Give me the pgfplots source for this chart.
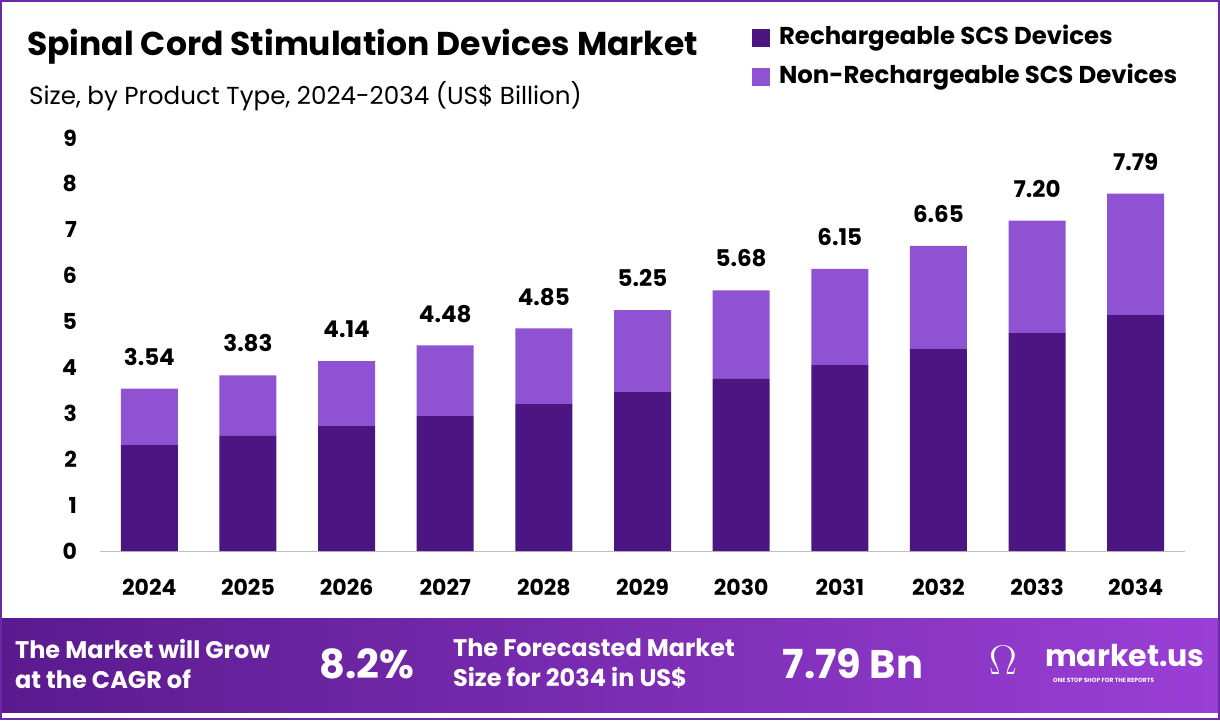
\documentclass[border=0pt]{standalone}
\usepackage{pgfplots}
\pgfplotsset{compat=1.18}
\usepackage{fontspec}
\setmainfont{Poppins}
\definecolor{darkp}{HTML}{4C1682}
\definecolor{lightp}{HTML}{8E52D2}
\definecolor{frame}{HTML}{6A2AA8}
\definecolor{bandA}{HTML}{5A1A8E}
\definecolor{bandB}{HTML}{9A3FD6}
\begin{document}
\begin{tikzpicture}[x=0.5pt,y=0.5pt]
\useasboundingbox (0,0) rectangle (1220,720);
\fill[white] (0,0) rectangle (1220,720);
\draw[frame,line width=1pt] (1,1) rectangle (1219,719);
\shade[left color=bandA,right color=bandB] (2,102) rectangle (1218,8);
\node[anchor=west,font=\bfseries\fontsize{16.5}{18}\selectfont] at (20,673) {Spinal Cord Stimulation Devices Market};
\node[anchor=west,font=\fontsize{12.3}{14}\selectfont] at (22,624) {Size, by Product Type, 2024-2034 (US\$ Billion)};
\fill[darkp] (752,691) rectangle (770,673);
\fill[lightp] (752,652) rectangle (770,634);
\node[anchor=west,font=\bfseries\fontsize{12.2}{14}\selectfont] at (772,682) {Rechargeable SCS Devices};
\node[anchor=west,font=\bfseries\fontsize{12.2}{14}\selectfont] at (772,643) {Non-Rechargeable SCS Devices};
\node[anchor=west,align=left,text=white,font=\bfseries\fontsize{12}{15}\selectfont] at (8,56) {The Market will Grow\\at the CAGR of};
\node[text=white,font=\bfseries\fontsize{20}{22}\selectfont] at (367,56) {8.2\%};
\node[anchor=west,align=left,text=white,font=\bfseries\fontsize{12}{15}\selectfont] at (446,56) {The Forecasted Market\\Size for 2034 in US\$};
\node[text=white,font=\bfseries\fontsize{20}{22}\selectfont] at (853,56) {7.79 Bn};
\node[anchor=west,text=white,font=\bfseries\fontsize{22}{22}\selectfont] at (982,60) {\(\Omega\)};
\node[anchor=west,text=white,font=\bfseries\fontsize{15}{18}\selectfont] at (1038,64) {market.us};
\node[anchor=west,text=white,font=\bfseries\fontsize{3}{4}\selectfont] at (1046,40) {ONE STOP SHOP FOR THE REPORTS};
\begin{axis}[at={(50pt,84.5pt)},anchor=south west,
  scale only axis,width=542.5pt,height=206.5pt,
  ybar stacked,bar width=28.5pt,
  xmin=-0.5,xmax=10.5,ymin=0,ymax=9,
  xtick={0,...,10},xticklabels={2024,2025,2026,2027,2028,2029,2030,2031,2032,2033,2034},
  ytick={0,...,9},
  axis y line=none,axis x line*=bottom,
  x axis line style={draw=black!25,-},
  xtick style={draw=none},
  ticklabel style={font=\bfseries\fontsize{11}{13}\selectfont},
  /pgf/number format/assume math mode=true,
  xticklabel style={yshift=-10.5pt},
  enlargelimits=false, clip=false]
\addplot[fill=darkp,draw=none] coordinates {(0,2.31)(1,2.51)(2,2.72)(3,2.94)(4,3.20)(5,3.46)(6,3.75)(7,4.05)(8,4.40)(9,4.75)(10,5.14)};
\addplot[fill=lightp,draw=none] coordinates {(0,1.23)(1,1.32)(2,1.42)(3,1.54)(4,1.65)(5,1.79)(6,1.93)(7,2.10)(8,2.25)(9,2.45)(10,2.65)};
\addplot[draw=none,fill=none,point meta=explicit,
  nodes near coords,nodes near coords style={font=\bfseries\fontsize{11.5}{13}\selectfont,text=black,anchor=south,yshift=8pt,
  /pgf/number format/.cd,fixed,precision=2,fixed zerofill,assume math mode=true}]
 coordinates {(0,0.001)[3.54](1,0.001)[3.83](2,0.001)[4.14](3,0.001)[4.48](4,0.001)[4.85](5,0.001)[5.25](6,0.001)[5.68](7,0.001)[6.15](8,0.001)[6.65](9,0.001)[7.20](10,0.001)[7.79]};
\end{axis}
\begin{axis}[at={(50pt,84.5pt)},anchor=south west,scale only axis,width=542.5pt,height=206.5pt,
  xmin=0,xmax=1,ymin=0,ymax=9,ytick={0,...,9},axis x line=none,axis y line*=left,
  y axis line style={draw=none},ytick style={draw=none},
  yticklabel style={font=\bfseries\fontsize{11}{13}\selectfont,xshift=-8pt},
  /pgf/number format/assume math mode=true]
\addplot[draw=none] coordinates {(0,0)};
\end{axis}
\end{tikzpicture}
\end{document}
